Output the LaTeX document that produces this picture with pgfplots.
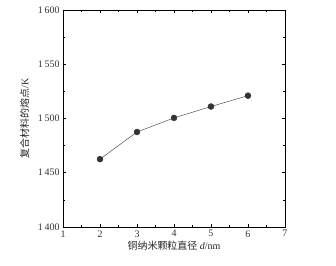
\documentclass[border=0pt]{standalone}
\usepackage{pgfplots}
\pgfplotsset{compat=1.18}
\usepackage{fontspec}
\setmainfont{Liberation Serif}
\newfontfamily\cjk{Noto Sans CJK SC}
\begin{document}
\begin{tikzpicture}[x=1bp,y=1bp]
\begin{axis}[
  clip=false,
  scale only axis,
  width=222bp, height=217bp,
  xmin=1, xmax=7, ymin=1400, ymax=1600,
  xtick={1,2,...,7}, ytick={1400,1450,...,1600},
  minor x tick num=1, minor y tick num=1,
  tick align=inside,
  tick pos=both,
  major tick length=3bp, minor tick length=2bp,
  tick style={black, thin},
  axis line style={black, thin},
  /pgf/number format/assume math mode=true,
  /pgf/number format/1000 sep={\,},
  ticklabel style={font=\fontsize{10}{12}\selectfont, text=black!80},
  xlabel={{\cjk 铜纳米颗粒直径} \textit{d}/nm},
  ylabel={{\cjk 复合材料的熔点}/K},
  label style={font=\fontsize{10}{12}\selectfont, text=black!85},
  xlabel style={yshift=3bp},
  ylabel style={yshift=2bp},
]
\addplot[black!80, thin, mark=*, mark size=3bp, mark options={fill=black!80, draw=black!80}]
coordinates {(2,1462.5) (3,1487.5) (4,1500.5) (5,1511) (6,1521)};
\path (rel axis cs:-0.284,-0.18) rectangle (rel axis cs:1.23,1.046);
\end{axis}
\end{tikzpicture}
\end{document}
